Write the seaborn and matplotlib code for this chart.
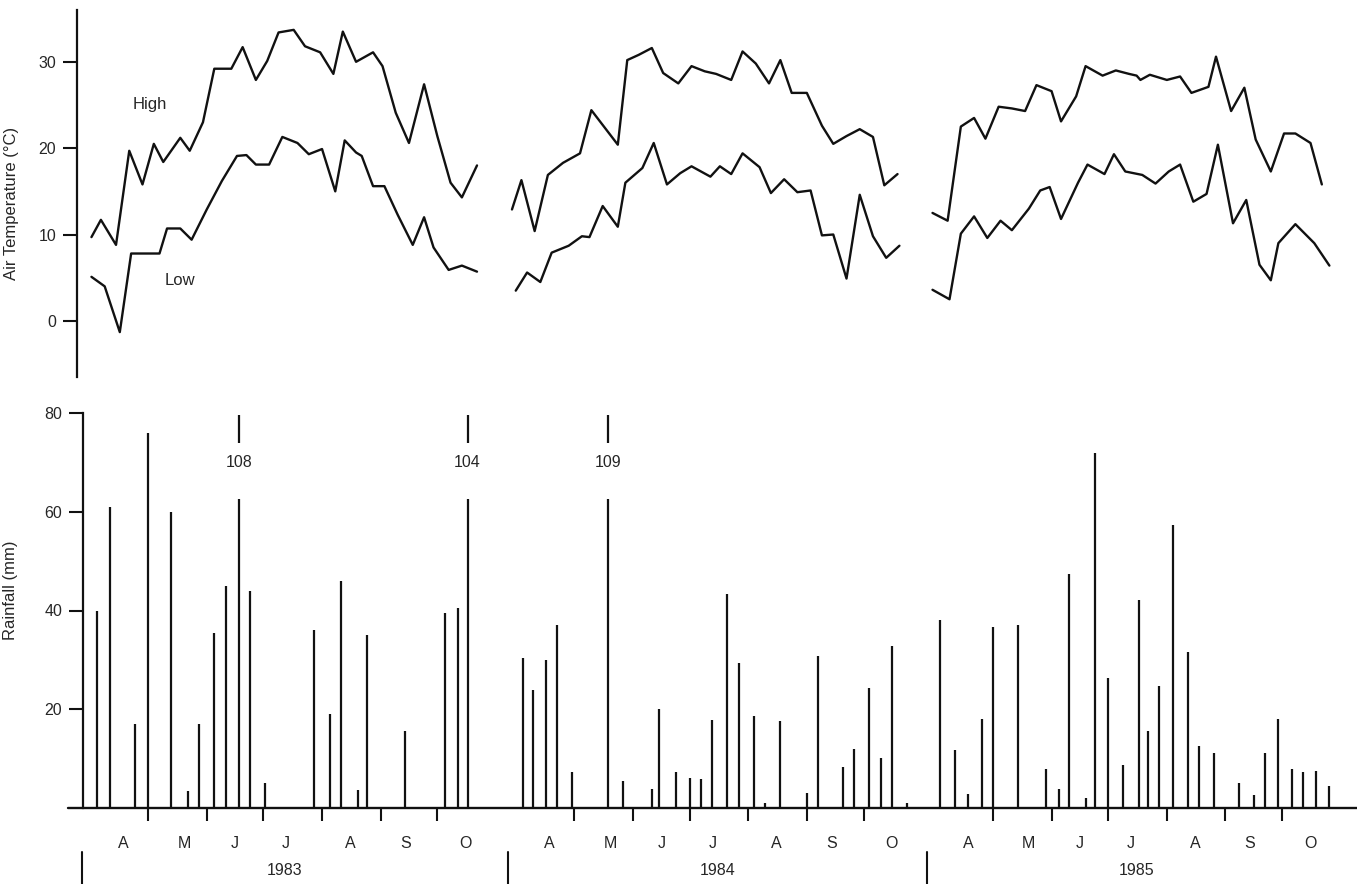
import numpy as np
import pandas as pd
import matplotlib
matplotlib.use('Agg')
import matplotlib.pyplot as plt
import seaborn as sns

years = ['1983', '1984', '1985']
month_letters = ['A', 'M', 'J', 'J', 'A', 'S', 'O']

# weekly air temperature (day of year, deg C)
high_day_83 = [91, 96, 104, 111, 118, 124, 129, 138, 143, 150, 156, 165, 171, 178, 184, 190,
               198, 204, 212, 219, 224, 231, 240, 245, 252, 259, 267, 274, 281, 287, 295]
high_83 = [9.7, 11.7, 8.8, 19.7, 15.8, 20.5, 18.4, 21.2, 19.7, 23.0, 29.2, 29.2, 31.7, 27.9, 30.1, 33.4,
           33.7, 31.8, 31.1, 28.6, 33.5, 30.0, 31.1, 29.5, 24.1, 20.6, 27.4, 21.4, 16.0, 14.3, 18.0]
low_day_83 = [91, 98, 106, 112, 120, 127, 131, 138, 144, 152, 160, 168, 173, 178, 185, 192,
              200, 206, 213, 220, 225, 231, 234, 240, 246, 253, 261, 267, 272, 280, 287, 295]
low_83 = [5.1, 4.0, -1.3, 7.8, 7.8, 7.8, 10.7, 10.7, 9.4, 12.9, 16.2, 19.1, 19.2, 18.1, 18.1, 21.3,
          20.6, 19.3, 19.9, 15.0, 20.9, 19.5, 19.1, 15.6, 15.6, 12.3, 8.8, 12.0, 8.5, 5.9, 6.4, 5.7]

high_day_84 = [88, 93, 100, 107, 115, 124, 130, 137, 144, 149, 155, 162, 168, 176, 183, 190,
               196, 204, 210, 217, 224, 230, 236, 244, 252, 258, 265, 272, 279, 285, 292]
high_84 = [12.9, 16.3, 10.4, 16.9, 18.3, 19.4, 24.4, 22.4, 20.4, 30.2, 30.8, 31.6, 28.7, 27.5, 29.5, 28.9,
           28.6, 27.9, 31.2, 29.8, 27.5, 30.2, 26.4, 26.4, 22.6, 20.5, 21.4, 22.2, 21.3, 15.7, 17.0]
low_day_84 = [90, 96, 103, 109, 118, 125, 129, 136, 144, 148, 157, 163, 170, 177, 183, 193,
              198, 204, 210, 219, 225, 232, 239, 246, 252, 258, 265, 272, 279, 286, 293]
low_84 = [3.5, 5.6, 4.5, 7.9, 8.7, 9.8, 9.7, 13.3, 10.9, 16.0, 17.7, 20.6, 15.8, 17.1, 17.9, 16.7,
          17.9, 17.0, 19.4, 17.8, 14.8, 16.4, 14.9, 15.1, 9.9, 10.0, 4.9, 14.6, 9.8, 7.3, 8.7]

high_day_85 = [89, 97, 104, 111, 117, 124, 131, 138, 144, 152, 157, 165, 170, 179, 186, 193,
               197, 199, 204, 213, 220, 226, 235, 239, 247, 254, 260, 268, 275, 281, 289, 295]
high_85 = [12.5, 11.6, 22.5, 23.5, 21.1, 24.8, 24.6, 24.3, 27.3, 26.6, 23.1, 26.0, 29.5, 28.4, 29.0, 28.6,
           28.4, 27.9, 28.5, 27.9, 28.3, 26.4, 27.1, 30.6, 24.3, 27.0, 21.0, 17.3, 21.7, 21.7, 20.6, 15.8]
low_day_85 = [89, 98, 104, 111, 118, 125, 131, 140, 146, 151, 157, 166, 171, 180, 185, 191,
              200, 207, 214, 220, 227, 234, 240, 248, 255, 262, 268, 272, 281, 291, 299]
low_85 = [3.6, 2.5, 10.1, 12.1, 9.6, 11.6, 10.5, 13.0, 15.1, 15.5, 11.8, 16.0, 18.1, 17.0, 19.3, 17.3,
          16.9, 15.9, 17.3, 18.1, 13.8, 14.7, 20.4, 11.3, 14.0, 6.5, 4.7, 9.0, 11.2, 9.0, 6.4]

# rainfall events (day of year, mm)
rain_day_83 = [94, 101, 114, 121, 133, 142, 148, 156, 162, 169, 175, 183, 209, 217, 223, 232, 237,
               257, 278, 285, 290]
rain_83 = [40, 61, 17, 76, 60, 3.5, 17, 35.5, 45, 108, 44, 5, 36, 19, 46, 3.6, 35,
           15.5, 39.5, 40.5, 104]
rain_day_84 = [94, 99, 106, 112, 120, 139, 147, 162, 166, 175, 182, 188, 194, 202, 208, 216, 222,
               230, 244, 250, 263, 269, 277, 283, 289, 297]
rain_84 = [30.3, 24, 30, 37, 7.2, 109, 5.5, 3.8, 20, 7.3, 6, 5.8, 17.8, 43.3, 29.3, 18.6, 1.0,
           17.7, 3.1, 30.8, 8.4, 11.9, 24.4, 10.1, 32.8, 1.0]
rain_day_85 = [93, 101, 108, 115, 121, 134, 149, 156, 161, 170, 175, 182, 190, 198, 203, 209, 216,
               224, 230, 238, 251, 259, 265, 272, 279, 285, 292, 299]
rain_85 = [38, 11.7, 2.8, 18, 36.7, 37, 7.9, 3.8, 47.3, 2.0, 71.8, 26.3, 8.7, 42.1, 15.6, 24.7, 57.3,
           31.6, 12.6, 11.1, 5.0, 2.6, 11.1, 18.0, 7.9, 7.3, 7.5, 4.5]

month_starts = [121, 152, 182, 213, 244, 274]          # May 1 .. Oct 1
month_label_days = [108, 140, 167, 194, 228, 257, 289]

highs = [(high_day_83, high_83), (high_day_84, high_84), (high_day_85, high_85)]
lows = [(low_day_83, low_83), (low_day_84, low_84), (low_day_85, low_85)]
rains = [(rain_day_83, rain_83), (rain_day_84, rain_84), (rain_day_85, rain_85)]

# layout: each year is its own block on one long axis
W, H = 1357, 884
PX0, PPD = 82, 1.89       # pixel of first block start, pixels per day
START = 86                # day of year where each block starts
offsets = [0, 225.5, 447]
BLACK = '#111111'


def gx(days, k):
    return offsets[k] + np.asarray(days, dtype=float) - START


frames = []
for k in range(3):
    for name, (d, v) in (('high', highs[k]), ('low', lows[k])):
        frames.append(pd.DataFrame({'x': gx(d, k), 'temp': v, 'seg': f'{name}{years[k]}'}))
temp = pd.concat(frames, ignore_index=True)

sns.set_style('ticks')
plt.rcParams['font.family'] = ['Liberation Sans', 'DejaVu Sans']

fig = plt.figure(figsize=(W / 100, H / 100), dpi=100)
ax1 = fig.add_axes([77 / W, 1 - 377 / H, (W - 77) / W, (377 - 10) / H])
ax2 = fig.add_axes([83 / W, 1 - 808 / H, (W - 83) / W, (808 - 413) / H])

# --- temperature panel
sns.lineplot(data=temp, x='x', y='temp', units='seg', estimator=None, sort=False,
             color=BLACK, linewidth=1.7, ax=ax1)
ax1.set_xlim((77 - PX0) / PPD, (W - PX0) / PPD)
ax1.set_ylim(-6.5, 36)
for s in ['top', 'right', 'bottom']:
    ax1.spines[s].set_visible(False)
ax1.spines['left'].set_linewidth(1.6)
ax1.spines['left'].set_color(BLACK)
ax1.set_xticks([])
ax1.set_xlabel('')
ax1.set_yticks([0, 10, 20, 30])
ax1.tick_params(axis='y', length=10, width=1.5, labelsize=11.5, color=BLACK, pad=5)
ax1.set_ylabel('Air Temperature (°C)', fontsize=12)
ax1.yaxis.set_label_coords(-0.045, 0.474)
ax1.text(gx(122, 0), 25.0, 'High', fontsize=12, ha='center', va='center')
ax1.text(gx(138, 0), 4.7, 'Low', fontsize=12, ha='center', va='center')

# --- rainfall panel (values over the axis top are drawn broken and labelled)
BREAK_TOP = 62.5
for k in range(3):
    d, v = rains[k]
    x = gx(d, k)
    v = np.asarray(v, dtype=float)
    ax2.vlines(x, 0, np.where(v > 80, BREAK_TOP, v), color=BLACK, linewidth=1.6)
    for xi, vi in zip(x, v):
        if vi > 80:
            ax2.vlines(xi, 74, 79.5, color=BLACK, linewidth=1.6)
            ax2.text(xi, 70, f'{vi:.0f}', ha='center', va='center', fontsize=11.5)

ax2.set_xlim((83 - PX0) / PPD, (W - PX0) / PPD)
ax2.set_ylim(0, 80)
for s in ['top', 'right', 'bottom']:
    ax2.spines[s].set_visible(False)
ax2.spines['left'].set_linewidth(1.6)
ax2.spines['left'].set_color(BLACK)
ax2.axhline(0, xmin=(68 - 83) / (W - 83), xmax=1, color=BLACK, linewidth=1.7, clip_on=False)
ax2.set_yticks([20, 40, 60, 80])
ax2.tick_params(axis='y', length=10, width=1.5, labelsize=11.5, color=BLACK, pad=5)
ax2.set_ylabel('Rainfall (mm)', fontsize=12)
ax2.yaxis.set_label_coords(-0.051, 0.552)

major = np.concatenate([gx(month_starts, k) for k in range(3)])
minor = np.concatenate([gx(month_label_days, k) for k in range(3)])
ax2.set_xticks(major)
ax2.set_xticklabels([''] * len(major))
ax2.set_xticks(minor, minor=True)
ax2.set_xticklabels(month_letters * 3, minor=True)
ax2.tick_params(axis='x', which='major', length=9, width=1.5, color=BLACK, direction='out')
ax2.tick_params(axis='x', which='minor', length=0, labelsize=11.5, pad=20)

trans = ax2.get_xaxis_transform()
year_label_days = [193, 197, 197]
for k in range(3):
    ax2.plot([gx(START, k)] * 2, [-0.111, -0.2], transform=trans, color=BLACK,
             linewidth=1.5, clip_on=False)
    ax2.text(gx(year_label_days[k], k), -0.157, years[k], transform=trans, ha='center',
             va='center', fontsize=11.5)

fig.savefig('out.png', dpi=100)
